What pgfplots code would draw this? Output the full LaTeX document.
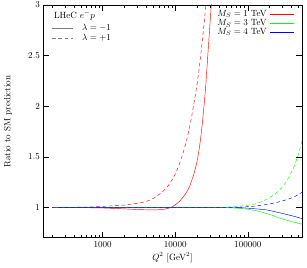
\documentclass[border=0pt]{standalone}
\usepackage{pgfplots}
\pgfplotsset{compat=1.18}
\begin{document}
\begin{tikzpicture}
\begin{axis}[
  scale only axis, width=287pt, height=258pt,
  xmode=log, xmin=150, xmax=560000, ymin=0.7, ymax=3,
  xtick={1000,10000,100000}, xticklabels={1000,10000,100000},
  minor xtick={200,300,400,500,600,700,800,900,2000,3000,4000,5000,6000,7000,8000,9000,20000,30000,40000,50000,60000,70000,80000,90000,200000,300000,400000,500000},
  ytick={1,1.5,2,2.5,3}, yticklabels={1,1.5,2,2.5,3},
  tick align=inside, major tick length=7pt, minor tick length=3.5pt,
  tick style={black, line width=0.6pt},
  axis line style={line width=0.8pt},
  xlabel={$Q^2$ [GeV$^2$]}, ylabel={Ratio to SM prediction},
  every axis x label/.style={at={(axis description cs:0.5,-0.085)}, anchor=center},
  every axis y label/.style={at={(axis description cs:-0.135,0.5)}, rotate=90, anchor=center},
]
% M_S = 1 TeV, lambda = -1
\addplot[red, line width=0.5pt, smooth] coordinates {
(200,1.000) (400,0.999) (700,0.997) (1000,0.995) (1500,0.990) (2000,0.986) (3000,0.980) (4000,0.977) (5000,0.976) (6000,0.978) (7000,0.983) (8000,0.992) (8800,1.003) (10000,1.025) (11000,1.05) (12100,1.08) (14000,1.14) (15800,1.21) (17500,1.30) (19500,1.42) (21200,1.56) (22900,1.74) (24900,2.00) (26500,2.23) (28100,2.50) (29700,2.75) (31400,3.00) (33000,3.22)};
% M_S = 1 TeV, lambda = +1
\addplot[red, line width=0.5pt, dash pattern=on 4pt off 3pt, smooth] coordinates {
(200,1.000) (400,1.002) (700,1.006) (1000,1.011) (2000,1.024) (3160,1.045) (4000,1.06) (5000,1.09) (6300,1.14) (7900,1.21) (10000,1.33) (12600,1.52) (15850,1.80) (20000,2.22) (22400,2.50) (25100,2.83) (26300,3.00) (28200,3.20)};
% M_S = 3 TeV
\addplot[green, line width=0.5pt, smooth] coordinates {
(200,1.0) (31600,1.0) (50000,0.998) (63000,0.995) (79400,0.99) (100000,0.982) (126000,0.97) (158000,0.953) (181000,0.94) (223900,0.92) (263000,0.90) (306000,0.885) (354800,0.872) (422000,0.857) (489800,0.845) (560000,0.835)};
\addplot[green, line width=0.5pt, dash pattern=on 4pt off 3pt, smooth] coordinates {
(200,1.0) (31600,1.0) (50000,1.004) (63000,1.008) (79400,1.013) (100000,1.022) (126000,1.035) (158000,1.06) (181000,1.08) (223900,1.12) (263000,1.16) (306000,1.21) (354800,1.28) (422000,1.38) (489800,1.51) (560000,1.66)};
% M_S = 4 TeV
\addplot[blue, line width=0.5pt, smooth] coordinates {
(200,1.0) (50000,1.0) (79400,0.997) (100000,0.993) (126000,0.987) (181000,0.976) (223900,0.962) (306000,0.94) (422000,0.915) (489800,0.902) (560000,0.89)};
\addplot[blue, line width=0.5pt, dash pattern=on 4pt off 3pt, smooth] coordinates {
(200,1.0) (50000,1.0) (79400,1.004) (100000,1.008) (126000,1.014) (181000,1.03) (223900,1.042) (306000,1.066) (422000,1.10) (489800,1.125) (560000,1.15)};
% legends
\node[anchor=west, inner sep=0pt] at (rel axis cs:0.042,0.955) {LHeC $e^-p$};
\draw[gray, line width=0.5pt] (rel axis cs:0.035,0.901) -- (rel axis cs:0.116,0.901);
\node[anchor=west, inner sep=0pt] at (rel axis cs:0.15,0.901) {$\lambda = -1$};
\draw[gray, line width=0.5pt, dash pattern=on 4pt off 3pt] (rel axis cs:0.035,0.858) -- (rel axis cs:0.116,0.858);
\node[anchor=west, inner sep=0pt] at (rel axis cs:0.15,0.858) {$\lambda = +1$};
\node[anchor=east, inner sep=0pt] at (rel axis cs:0.864,0.961) {$M_S = 1$ TeV};
\draw[red, line width=0.5pt] (rel axis cs:0.876,0.961) -- (rel axis cs:0.969,0.961);
\node[anchor=east, inner sep=0pt] at (rel axis cs:0.864,0.921) {$M_S = 3$ TeV};
\draw[green, line width=0.5pt] (rel axis cs:0.876,0.921) -- (rel axis cs:0.969,0.921);
\node[anchor=east, inner sep=0pt] at (rel axis cs:0.864,0.883) {$M_S = 4$ TeV};
\draw[blue, line width=0.5pt] (rel axis cs:0.876,0.883) -- (rel axis cs:0.969,0.883);
\coordinate (sw) at (rel axis cs:0,0);
\coordinate (ne) at (rel axis cs:1,1);
\end{axis}
\pgfresetboundingbox
\path ([shift={(-47.6pt,-33.2pt)}]sw) rectangle ([shift={(5.5pt,5.5pt)}]ne);
\end{tikzpicture}
\end{document}
